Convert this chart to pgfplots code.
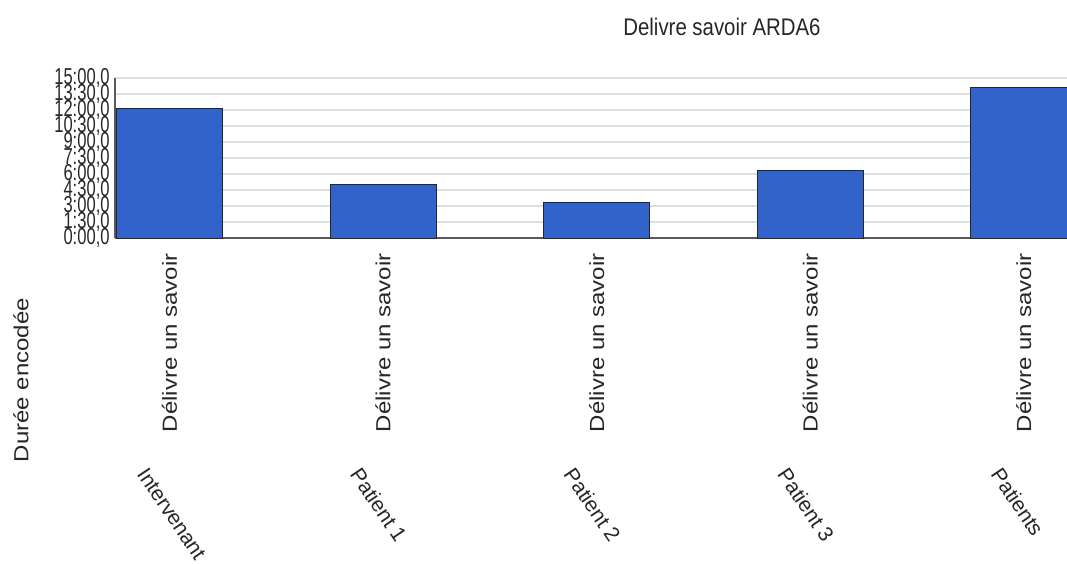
\documentclass[border=0pt]{standalone}
\usepackage{pgfplots}
\pgfplotsset{compat=1.18}
\usepackage{fontspec}
\setmainfont{Liberation Sans}
\definecolor{barblue}{RGB}{49,99,203}
\definecolor{gridgray}{RGB}{222,222,222}
\definecolor{axisgray}{RGB}{90,90,90}
\pgfplotstableread{
x y
0 12.1
1 5.05
2 3.35
3 6.3
4 14.15
}\datatable
\begin{document}
\begin{tikzpicture}
\path[use as bounding box] (0,0) rectangle (1067pt,563pt);
\begin{axis}[
  at={(115pt,325pt)}, anchor=south west,
  scale only axis, width=960pt, height=160pt,
  xmin=-0.255, xmax=4.24, ymin=0, ymax=15,
  enlargelimits=false, clip mode=individual,
  axis x line*=bottom, axis y line*=left,
  axis line style={-, axisgray, line width=1.6pt},
  major tick length=0pt,
  ymajorgrids, grid style={gridgray, line width=1.6pt},
  ytick={0,1.5,3,4.5,6,7.5,9,10.5,12,13.5,15},
  yticklabels={{0:00,0},{1:30,0},{3:00,0},{4:30,0},{6:00,0},{7:30,0},{9:00,0},{10:30,0},{12:00,0},{13:30,0},{15:00,0}},
  yticklabel style={font=\fontsize{23}{23}\selectfont, xscale=0.72, anchor=east, xshift=-4pt, text=black!85},
  xtick={0,1,2,3,4},
  xticklabels={Délivre un savoir,Délivre un savoir,Délivre un savoir,Délivre un savoir,Délivre un savoir},
  xticklabel style={font=\fontsize{24}{24}\selectfont, yshift=-12pt, xscale=0.85, rotate=90, anchor=east, text=black!85},
  ybar, bar width=106pt,
]
\addplot[fill=barblue, draw=black!85, line width=1pt] table[x=x,y=y] {\datatable};
\foreach \i/\name in {0/Intervenant,1/Patient 1,2/Patient 2,3/Patient 3,4/Patients}{
  \edef\temp{\noexpand\node[font=\noexpand\fontsize{21}{21}\noexpand\selectfont, rotate=-56, anchor=north west, text=black!85, inner sep=0pt] at ([xshift=-21pt,yshift=-228pt]axis cs:\i,0) {\name};}
  \temp
}
\end{axis}
\node[font=\fontsize{24}{24}\selectfont, xscale=0.85, text=black!85] at (722pt,536pt) {Delivre savoir ARDA6};
\node[font=\fontsize{24}{24}\selectfont, xscale=0.85, rotate=90, text=black!85] at (21pt,183pt) {Durée encodée};
\end{tikzpicture}
\end{document}
